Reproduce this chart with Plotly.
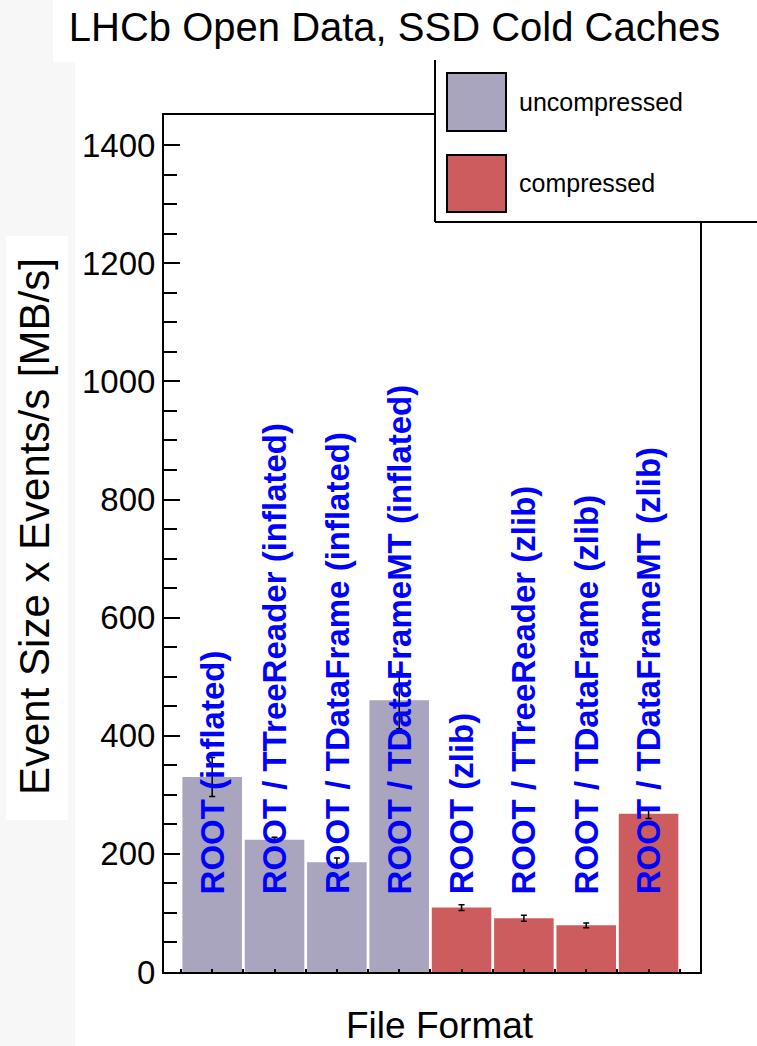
import plotly.graph_objects as go

# ---------------- data ----------------
categories = [
    "ROOT (inflated)",
    "ROOT / TTreeReader (inflated)",
    "ROOT / TDataFrame (inflated)",
    "ROOT / TDataFrameMT (inflated)",
    "ROOT (zlib)",
    "ROOT / TTreeReader (zlib)",
    "ROOT / TDataFrame (zlib)",
    "ROOT / TDataFrameMT (zlib)",
]
uncompressed_idx = [0, 1, 2, 3]
uncompressed_val = [330, 224, 186, 460]
uncompressed_err = [33, 4, 7, 48]
compressed_idx = [4, 5, 6, 7]
compressed_val = [109, 91, 79, 268]
compressed_err = [5, 5, 4, 8]
series_names = ["uncompressed", "compressed"]
y_ticks = [0, 200, 400, 600, 800, 1000, 1200, 1400]
label_base = 130

# ---------------- styling ----------------
W, H = 757, 1046
L, R, T, B = 164, 700, 115, 972
C_UNC = "#a9a5bf"
C_CMP = "#cd5c5e"
FONT = "Liberation Sans, Arial, sans-serif"


def px(xp):
    return (xp - L) / (R - L)


def py(yp):
    return (B - yp) / (B - T)


fig = go.Figure()
fig.add_trace(go.Bar(
    x=uncompressed_idx, y=uncompressed_val, name=series_names[0],
    marker=dict(color=C_UNC, line=dict(width=0)), width=0.955,
    error_y=dict(type="data", array=uncompressed_err, color="black",
                 thickness=1.5, width=3),
    showlegend=False,
))
fig.add_trace(go.Bar(
    x=compressed_idx, y=compressed_val, name=series_names[1],
    marker=dict(color=C_CMP, line=dict(width=0)), width=0.955,
    error_y=dict(type="data", array=compressed_err, color="black",
                 thickness=1.5, width=3),
    showlegend=False,
))

annotations = []
for i, cat in enumerate(categories):
    annotations.append(dict(
        x=i, y=label_base, xref="x", yref="y", text=cat, textangle=-90,
        showarrow=False, xanchor="center", yanchor="bottom", borderpad=0,
        font=dict(family=FONT, size=33, color="#0000ff", weight="bold"),
    ))

# axis titles
annotations.append(dict(
    x=px(34), y=py(527), xref="paper", yref="paper",
    text="Event Size x Events/s [MB/s]", textangle=-90, showarrow=False,
    xanchor="center", yanchor="middle",
    font=dict(family=FONT, size=42, color="black"),
))
annotations.append(dict(
    x=px(440), y=py(1025), xref="paper", yref="paper",
    text="File Format", showarrow=False, xanchor="center", yanchor="middle",
    font=dict(family=FONT, size=37, color="black"),
))

shapes = []
# light grey background strips and white boxes
shapes.append(dict(type="rect", xref="paper", yref="paper", layer="below",
                   x0=px(0), x1=px(75), y0=py(62), y1=py(1046),
                   fillcolor="#f7f7f7", line=dict(width=0)))
shapes.append(dict(type="rect", xref="paper", yref="paper", layer="below",
                   x0=px(0), x1=px(53), y0=py(0), y1=py(62),
                   fillcolor="#f7f7f7", line=dict(width=0)))
shapes.append(dict(type="rect", xref="paper", yref="paper", layer="below",
                   x0=px(6), x1=px(68), y0=py(236), y1=py(820),
                   fillcolor="white", line=dict(width=0)))

# legend box
shapes.append(dict(type="rect", xref="paper", yref="paper", layer="above",
                   x0=px(435), x1=px(760), y0=py(60), y1=py(222),
                   fillcolor="white", line=dict(width=0)))
shapes.append(dict(type="line", xref="paper", yref="paper", layer="above",
                   x0=px(435), x1=px(435), y0=py(60), y1=py(222),
                   line=dict(color="black", width=2)))
shapes.append(dict(type="line", xref="paper", yref="paper", layer="above",
                   x0=px(435), x1=px(760), y0=py(222), y1=py(222),
                   line=dict(color="black", width=2)))
for (y0, y1, col, name) in [(73, 131, C_UNC, series_names[0]),
                            (155, 212, C_CMP, series_names[1])]:
    shapes.append(dict(type="rect", xref="paper", yref="paper", layer="above",
                       x0=px(447), x1=px(506), y0=py(y0), y1=py(y1),
                       fillcolor=col, line=dict(color="black", width=2)))
    annotations.append(dict(
        x=px(517), y=py((y0 + y1) / 2), xref="paper", yref="paper",
        text=name, showarrow=False, xanchor="left", yanchor="middle",
        font=dict(family=FONT, size=25, color="black"),
    ))

fig.update_layout(
    width=W, height=H,
    margin=dict(l=L, r=W - R, t=T, b=H - B, pad=0),
    paper_bgcolor="white", plot_bgcolor="white",
    barmode="overlay",
    title=dict(text="LHCb Open Data, SSD Cold Caches", x=394.5 / W,
               xanchor="center", y=1 - 27 / H, yanchor="middle",
               font=dict(family=FONT, size=40, color="black")),
    annotations=annotations, shapes=shapes,
    xaxis=dict(range=[-0.773, 7.825], tickmode="linear", tick0=-0.5, dtick=0.5,
               ticks="inside", ticklen=3, tickwidth=1.5, tickcolor="black",
               showticklabels=False, showline=True, linecolor="black",
               linewidth=2, mirror=True, showgrid=False, zeroline=False),
    yaxis=dict(range=[0, 1451], tickvals=y_ticks, ticks="inside", ticklen=16,
               tickwidth=1.5, tickcolor="black",
               minor=dict(dtick=50, tick0=0, ticks="inside", ticklen=13,
                          tickwidth=1.5, tickcolor="black", showgrid=False),
               tickfont=dict(family=FONT, size=33, color="black"),
               showline=True, linecolor="black", linewidth=2, mirror=True,
               showgrid=False, zeroline=False, ticklabelstandoff=0),
)

fig.write_html(
    "out.html",
    config={"displayModeBar": False},
    post_script="document.body.style.margin='0';document.body.style.overflow='hidden';",
)
